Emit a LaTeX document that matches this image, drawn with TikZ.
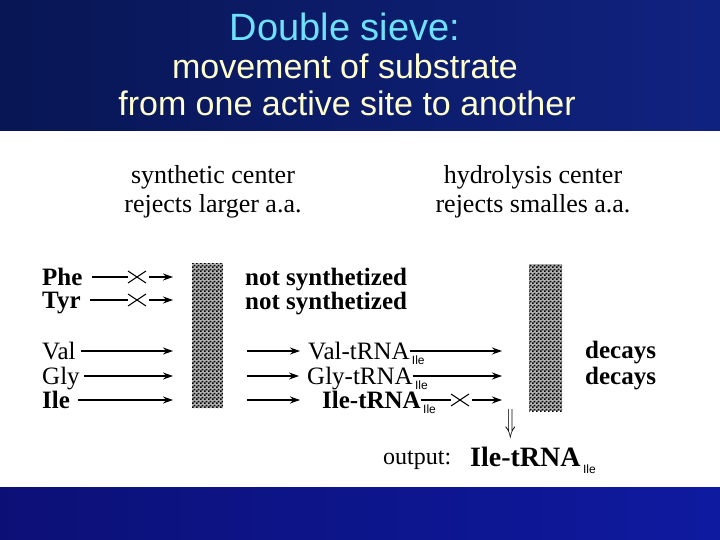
\documentclass[tikz,border=0pt]{standalone}
\usepackage{fontspec}
\setmainfont{Liberation Serif}
\newfontfamily\arialfont{Liberation Sans}
\usetikzlibrary{arrows.meta, shapes.misc, patterns.meta}

\definecolor{navyleft}{RGB}{8,22,84}
\definecolor{navyright}{RGB}{16,34,128}
\definecolor{bandleft}{RGB}{12,16,118}
\definecolor{bandright}{RGB}{14,26,160}
\definecolor{titlecyan}{RGB}{110,225,250}
\definecolor{titlecream}{RGB}{255,255,205}

\tikzdeclarepattern{
  name=finecheck,
  bounding box={(0pt,0pt) and (4pt,4pt)},
  tile size={(4pt,4pt)},
  code={
    \fill (0pt,0pt) rectangle (2pt,2pt);
    \fill (2pt,2pt) rectangle (4pt,4pt);
  }
}

\begin{document}
\begin{tikzpicture}[x=1pt, y=-1pt,
    subtitle/.style={font=\arialfont\fontsize{34}{34}\selectfont, text=titlecream, anchor=base, inner sep=0pt},
    head/.style={font=\fontsize{26}{29}\selectfont, align=center, anchor=north, inner sep=0pt},
    aa/.style={font=\fontsize{25}{25}\selectfont, anchor=west, inner sep=0pt, text height=16pt, text depth=0pt},
    aab/.style={aa, font=\fontsize{25}{25}\selectfont\bfseries},
    sub/.style={font=\arialfont\fontsize{12}{12}\selectfont, anchor=west, inner sep=0pt},
    crossmark/.style={cross out, draw, line width=1pt, minimum width=17pt, minimum height=11pt, inner sep=0pt},
    line/.style={line width=1.1pt},
    arr/.style={line, -{Stealth[length=10pt,width=7pt]}},
    sieve/.style={pattern=finecheck, pattern color=black}]

    \useasboundingbox (0,0) rectangle (720,540);

    % Fondo
    \fill[left color=navyleft, right color=navyright] (0,0) rectangle (720,131);
    \fill[white] (0,131) rectangle (720,487);
    \fill[left color=bandleft, right color=bandright] (0,487) rectangle (720,540);

    % Titulo
    \node[font=\arialfont\fontsize{38}{38}\selectfont, text=titlecyan, anchor=base, inner sep=0pt] (title) at (345,41) {Double sieve:};
    \node[subtitle] (subone) at (345,79) {movement of substrate};
    \node[subtitle] (subtwo) at (347,116) {from one active site to another};

    % Centros
    \node[head] (synth) at (213,165) {synthetic center\\rejects larger a.a.};
    \node[head] (hydro) at (533,165) {hydrolysis center\\rejects smalles a.a.};

    % Aminoacidos
    \node[aab] (phe) at (42,277) {Phe};
    \node[aab] (tyr) at (42,300) {Tyr};
    \node[aa] (val) at (42,351) {Val};
    \node[aa] (gly) at (42,376) {Gly};
    \node[aab] (ile) at (42,400) {Ile};

    % Primer tamiz
    \coordinate (inone) at (173,0);
    \node[crossmark] (xphe) at (137,277) {};
    \node[crossmark] (xtyr) at (137,300) {};
    \draw[line, shorten <=9pt] (phe) -- (xphe);
    \draw[line, shorten <=9pt] (tyr) -- (xtyr);
    \draw[arr, shorten <=3pt] (xphe) -- (xphe -| inone);
    \draw[arr, shorten <=3pt] (xtyr) -- (xtyr -| inone);
    \draw[arr, line width=1.8pt, shorten <=5pt] (val) -- (val -| inone);
    \draw[arr, shorten <=4pt] (gly) -- (gly -| inone);
    \draw[arr, shorten <=8pt] (ile) -- (ile -| inone);
    \fill[black!30] (192,263) rectangle (223,408);
    \fill[sieve] (192,263) rectangle (223,408);

    \node[aab] (notone) at (245,277) {not synthetized};
    \node[aab] (nottwo) at (245,301) {not synthetized};

    % Aminoacil-tRNA
    \coordinate (outone) at (247,0);
    \node[aa] (valt) at (308,351) {Val-tRNA};
    \node[aa] (glyt) at (307,376) {Gly-tRNA};
    \node[aab] (ilet) at (322,400) {Ile-tRNA};
    \node[sub] (valsub) at ([xshift=2pt,yshift=-9.5pt]valt.east) {Ile};
    \node[sub] (glysub) at ([xshift=2pt,yshift=-9.5pt]glyt.east) {Ile};
    \node[sub] (ilesub) at ([xshift=2pt,yshift=-9.5pt]ilet.east) {Ile};
    \draw[arr, line width=1.8pt, shorten >=8pt] (valt -| outone) -- (valt);
    \draw[arr, shorten >=8pt] (glyt -| outone) -- (glyt);
    \draw[arr, shorten >=22pt] (ilet -| outone) -- (ilet);

    % Segundo tamiz
    \coordinate (intwo) at (502,0);
    \node[crossmark] (xile) at (460,400) {};
    \draw[arr, line width=1.8pt] (valt) -- (valt -| intwo);
    \draw[arr] (glyt) -- (glyt -| intwo);
    \draw[line] (ilet) -- (xile);
    \draw[arr, shorten <=3pt] (xile) -- (xile -| intwo);
    \fill[black!30] (529,264) rectangle (562,411);
    \fill[sieve] (529,264) rectangle (562,411);

    \node[aab] (decone) at (585,350) {decays};
    \node[aab] (dectwo) at (585,376) {decays};

    % Salida
    \node[font=\fontsize{30}{30}\selectfont, inner sep=0pt] (down) at (511,424) {\scalebox{0.7}[1.35]{$\Downarrow$}};
    \node[font=\fontsize{24}{24}\selectfont, anchor=base west, inner sep=0pt] (outlbl) at (383,464) {output:};
    \node[aa, font=\fontsize{28}{28}\selectfont\bfseries] (outt) at (470,458) {Ile-tRNA};
    \node[sub] (outsub) at ([xshift=2pt,yshift=-11pt]outt.east) {Ile};
\end{tikzpicture}
\end{document}
